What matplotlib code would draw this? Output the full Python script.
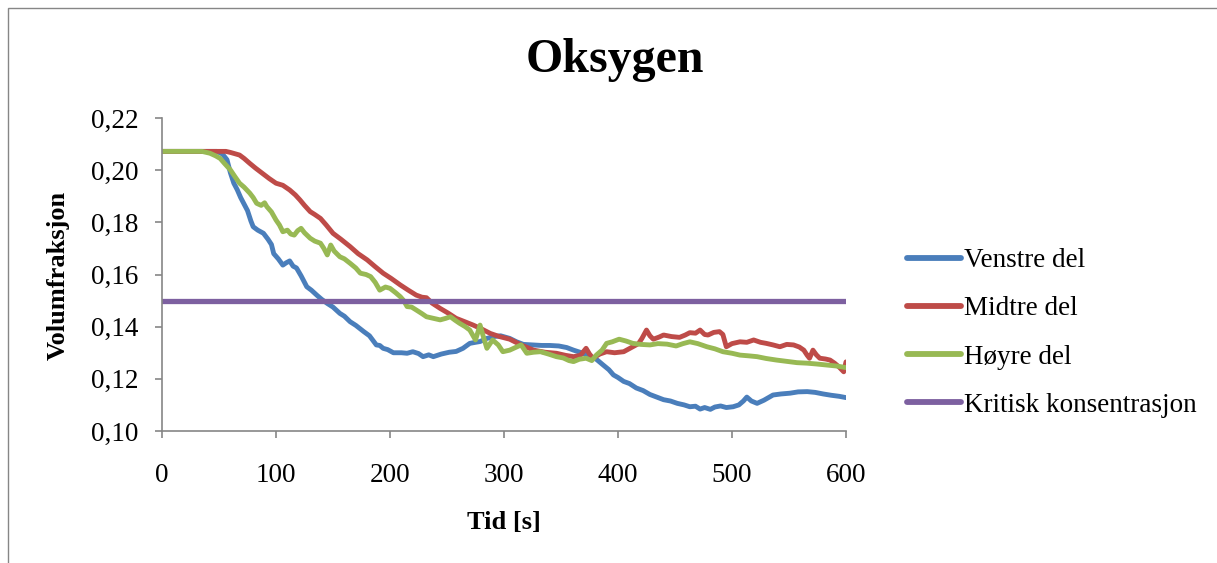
import matplotlib
matplotlib.use("Agg")
import matplotlib.pyplot as plt
from matplotlib.ticker import FuncFormatter, MultipleLocator
from matplotlib.patches import Rectangle

# ---------------- data ----------------
title = "Oksygen"
x_label = "Tid [s]"
y_label = "Volumfraksjon"
series_names = ["Venstre del", "Midtre del", "Høyre del", "Kritisk konsentrasjon"]

t_venstre = [0, 48, 53, 57, 60, 63, 66, 69, 72, 75, 78, 80, 84, 89, 93, 96, 98, 102, 106, 109,
             112, 115, 118, 122, 127, 131, 136, 140, 145, 150, 156, 160, 165, 170, 177, 182, 188,
             191, 194, 198, 203, 210, 215, 220, 225, 229, 234, 238, 245, 252, 258, 264, 270, 275,
             279, 285, 291, 297, 305, 311, 317, 325, 333, 340, 348, 355, 361, 368, 375, 381, 387,
             392, 396, 400, 405, 410, 416, 422, 428, 434, 440, 446, 452, 458, 463, 468, 472, 476,
             481, 485, 490, 495, 501, 506, 510, 513, 517, 522, 528, 536, 543, 551, 558, 566, 573,
             580, 587, 594, 600]
v_venstre = [0.2072, 0.2072, 0.2062, 0.2040, 0.1990, 0.1950, 0.1925, 0.1895, 0.1870, 0.1845,
             0.1805, 0.1783, 0.1770, 0.1758, 0.1735, 0.1715, 0.1680, 0.1660, 0.1636, 0.1645,
             0.1652, 0.1632, 0.1625, 0.1595, 0.1553, 0.1540, 0.1520, 0.1505, 0.1489, 0.1475,
             0.1451, 0.1440, 0.1419, 0.1405, 0.1381, 0.1365, 0.1330, 0.1328, 0.1317, 0.1312,
             0.1300, 0.1300, 0.1298, 0.1304, 0.1297, 0.1285, 0.1292, 0.1285, 0.1295, 0.1302,
             0.1305, 0.1317, 0.1336, 0.1340, 0.1343, 0.1355, 0.1362, 0.1365, 0.1355, 0.1342,
             0.1332, 0.1330, 0.1328, 0.1328, 0.1326, 0.1320, 0.1310, 0.1300, 0.1287, 0.1275,
             0.1253, 0.1235, 0.1215, 0.1205, 0.1190, 0.1182, 0.1165, 0.1155, 0.1140, 0.1130,
             0.1120, 0.1115, 0.1106, 0.1100, 0.1093, 0.1095, 0.1084, 0.1090, 0.1083, 0.1092,
             0.1096, 0.1090, 0.1093, 0.1100, 0.1115, 0.1130, 0.1115, 0.1106, 0.1118, 0.1138,
             0.1142, 0.1145, 0.1150, 0.1151, 0.1148, 0.1142, 0.1137, 0.1133, 0.1128]

t_midtre = [0, 56, 60, 64, 68, 72, 77, 82, 88, 94, 100, 106, 112, 117, 121, 125, 130, 134, 139,
            144, 150, 157, 165, 172, 180, 187, 194, 201, 209, 216, 223, 228, 232, 237, 244, 251,
            258, 265, 273, 280, 288, 296, 305, 315, 326, 336, 346, 354, 361, 367, 372, 375, 378,
            384, 390, 397, 405, 413, 418, 421, 425, 428, 431, 436, 440, 447, 454, 459, 463, 468,
            472, 476, 479, 484, 489, 492, 495, 500, 507, 513, 519, 525, 530, 536, 542, 548, 554,
            559, 563, 566, 568, 571, 574, 577, 582, 586, 590, 594, 598, 600]
v_midtre = [0.2072, 0.2072, 0.2068, 0.2063, 0.2058, 0.2045, 0.2026, 0.2008, 0.1988, 0.1968,
            0.1950, 0.1942, 0.1924, 0.1905, 0.1886, 0.1865, 0.1841, 0.1830, 0.1815, 0.1790,
            0.1758, 0.1735, 0.1707, 0.1680, 0.1656, 0.1630, 0.1605, 0.1585, 0.1560, 0.1540,
            0.1521, 0.1513, 0.1511, 0.1490, 0.1470, 0.1452, 0.1432, 0.1420, 0.1406, 0.1392,
            0.1374, 0.1362, 0.1352, 0.1330, 0.1310, 0.1302, 0.1298, 0.1290, 0.1285, 0.1290,
            0.1317, 0.1295, 0.1279, 0.1295, 0.1304, 0.1300, 0.1304, 0.1323, 0.1335, 0.1355,
            0.1387, 0.1365, 0.1352, 0.1360, 0.1368, 0.1362, 0.1359, 0.1368, 0.1377, 0.1375,
            0.1387, 0.1370, 0.1368, 0.1378, 0.1381, 0.1370, 0.1323, 0.1335, 0.1342, 0.1340,
            0.1349, 0.1340, 0.1336, 0.1330, 0.1323, 0.1332, 0.1330, 0.1322, 0.1310, 0.1290,
            0.1279, 0.1310, 0.1292, 0.1279, 0.1276, 0.1272, 0.1260, 0.1245, 0.1227, 0.1265]

t_hoyre = [0, 35, 42, 47, 51, 55, 60, 64, 68, 72, 77, 80, 83, 87, 90, 92, 96, 100, 103, 106,
           110, 113, 116, 119, 122, 125, 130, 134, 139, 142, 145, 148, 151, 156, 160, 165, 170,
           174, 179, 183, 187, 191, 196, 200, 205, 209, 212, 215, 219, 223, 228, 232, 238, 244,
           249, 253, 257, 261, 266, 270, 275, 279, 282, 285, 290, 295, 299, 305, 310, 315, 320,
           326, 332, 339, 346, 352, 357, 361, 366, 372, 377, 381, 386, 390, 395, 401, 407, 413,
           420, 428, 435, 443, 451, 457, 463, 470, 478, 485, 492, 500, 507, 515, 522, 530, 539,
           548, 557, 566, 574, 583, 592, 600]
v_hoyre = [0.2072, 0.2072, 0.2065, 0.2055, 0.2045, 0.2025, 0.2001, 0.1975, 0.1950, 0.1935,
           0.1912, 0.1895, 0.1873, 0.1865, 0.1875, 0.1860, 0.1840, 0.1809, 0.1790, 0.1764,
           0.1770, 0.1755, 0.1751, 0.1768, 0.1777, 0.1760, 0.1739, 0.1728, 0.1720, 0.1700,
           0.1675, 0.1713, 0.1690, 0.1668, 0.1660, 0.1643, 0.1625, 0.1605, 0.1600, 0.1592,
           0.1570, 0.1540, 0.1552, 0.1547, 0.1530, 0.1515, 0.1500, 0.1477, 0.1475, 0.1464,
           0.1450, 0.1438, 0.1432, 0.1426, 0.1432, 0.1438, 0.1425, 0.1413, 0.1400, 0.1387,
           0.1349, 0.1406, 0.1360, 0.1317, 0.1349, 0.1330, 0.1304, 0.1310, 0.1320, 0.1330,
           0.1298, 0.1302, 0.1304, 0.1295, 0.1285, 0.1280, 0.1270, 0.1266, 0.1275, 0.1279,
           0.1270, 0.1291, 0.1310, 0.1336, 0.1342, 0.1352, 0.1345, 0.1336, 0.1332, 0.1330,
           0.1335, 0.1333, 0.1326, 0.1335, 0.1342, 0.1335, 0.1323, 0.1315, 0.1304, 0.1298,
           0.1291, 0.1288, 0.1285, 0.1278, 0.1272, 0.1267, 0.1262, 0.1260, 0.1257, 0.1253,
           0.1249, 0.1243]

t_kritisk = [0, 600]
v_kritisk = [0.15, 0.15]

x_ticks = [0, 100, 200, 300, 400, 500, 600]
y_min, y_max, y_step = 0.10, 0.22, 0.02

colors = ["#4A7EBB", "#BE4B48", "#98B954", "#7D60A0"]

# ---------------- figure ----------------
plt.rcParams["font.family"] = ["Liberation Serif", "DejaVu Serif"]

fig = plt.figure(figsize=(12.17, 5.63), dpi=100)
ax = fig.add_axes([162 / 1217, 1 - 431 / 563, (846 - 162) / 1217, (431 - 118) / 563])

# outer chart border (top and left visible)
fig.patches.append(Rectangle((8 / 1217, -0.1), 1.2, 1 - 8 / 563 + 0.1,
                             transform=fig.transFigure, fill=False,
                             edgecolor="#868686", linewidth=1.0))

data = [(t_venstre, v_venstre), (t_midtre, v_midtre), (t_hoyre, v_hoyre), (t_kritisk, v_kritisk)]
lws = [3.5, 3.5, 3.5, 3.8]
for (t, v), name, c, lw in zip(data, series_names, colors, lws):
    ax.plot(t, v, color=c, linewidth=lw, label=name, solid_capstyle="round",
            solid_joinstyle="round")

ax.set_xlim(0, 600)
ax.set_ylim(y_min, y_max)
ax.set_xticks(x_ticks)
ax.yaxis.set_major_locator(MultipleLocator(y_step))
ax.yaxis.set_major_formatter(FuncFormatter(lambda v, p: f"{v:.2f}".replace(".", ",")))

for s in ["top", "right"]:
    ax.spines[s].set_visible(False)
for s in ["left", "bottom"]:
    ax.spines[s].set_color("#868686")
    ax.spines[s].set_linewidth(1.2)

ax.tick_params(axis="both", direction="out", length=5, width=1.2, color="#868686",
               labelsize=19.5, labelcolor="black")
ax.tick_params(axis="x", pad=18)
ax.tick_params(axis="y", pad=12)

fig.text(615 / 1217, 1 - 60 / 563, title, ha="center", va="center",
         fontsize=34.5, fontweight="bold")
fig.text(504 / 1217, 1 - 523 / 563, x_label, ha="center", va="center",
         fontsize=19, fontweight="bold")
fig.text(58 / 1217, 1 - 275 / 563, y_label, ha="center", va="center",
         fontsize=19, fontweight="bold", rotation=90)

leg = ax.legend(loc="center left", bbox_to_anchor=(907 / 1217, 1 - 333 / 563),
                bbox_transform=fig.transFigure, frameon=False, fontsize=19.5,
                handlelength=2.0, handletextpad=0.12, labelspacing=0.85,
                borderpad=0, borderaxespad=0)
for line in leg.get_lines():
    line.set_linewidth(4.2)
    line.set_solid_capstyle("round")

fig.savefig("out.png", dpi=100)
